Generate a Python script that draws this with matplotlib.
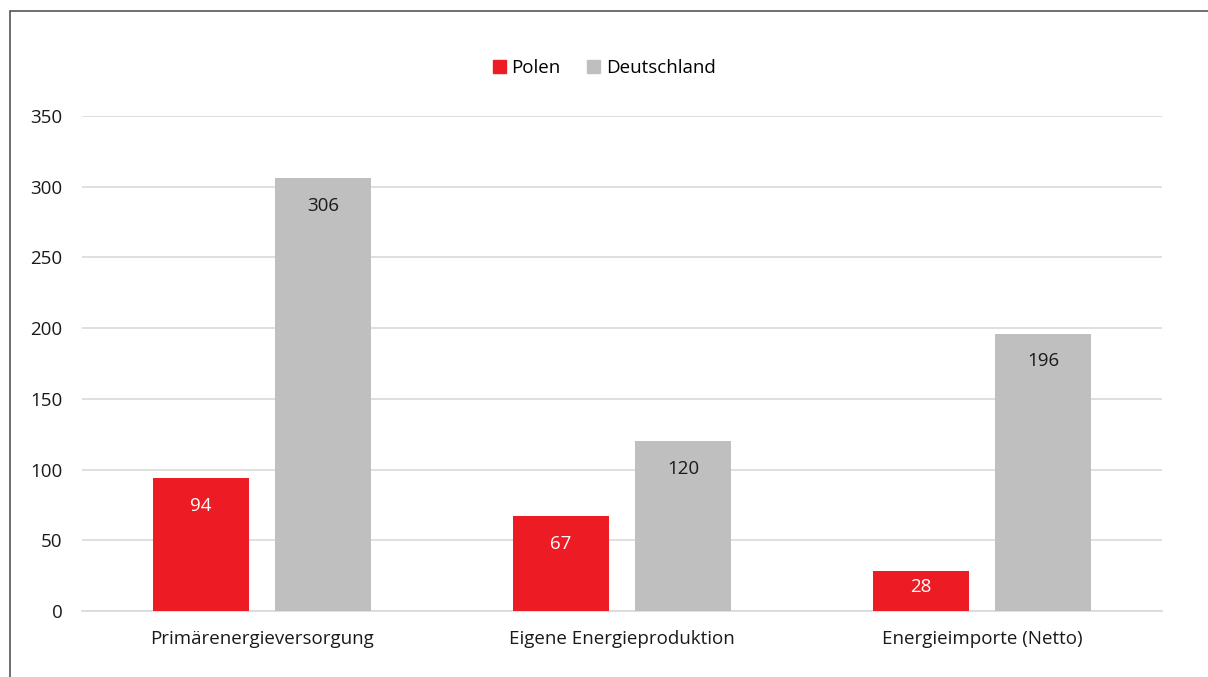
import matplotlib.pyplot as plt
import matplotlib.patches as mpatches
import numpy as np

# ---- Data ----
categories = ["Primärenergieversorgung", "Eigene Energieproduktion", "Energieimporte (Netto)"]
polen = [94, 67, 28]
deutschland = [306, 120, 196]
series_names = ["Polen", "Deutschland"]

RED = "#ED1C24"
GRAY = "#BFBFBF"

plt.rcParams["font.family"] = ["Open Sans", "DejaVu Sans"]
FS = 13.5

fig = plt.figure(figsize=(12.08, 6.77), dpi=100)
ax = fig.add_axes([0.0679, 0.0975, 0.8941, 0.7312])

x = np.arange(len(categories))
w = 0.267
off = 0.17
b1 = ax.bar(x - off, polen, w, color=RED, zorder=3)
b2 = ax.bar(x + off, deutschland, w, color=GRAY, zorder=3)

# value labels just inside the top of each bar
for rect, v in zip(b1, polen):
    ax.text(rect.get_x() + rect.get_width() / 2, max(v - 19.5, v * 0.6), str(v),
            ha="center", va="center", color="white", fontsize=FS)
for rect, v in zip(b2, deutschland):
    ax.text(rect.get_x() + rect.get_width() / 2, max(v - 19.5, v * 0.6), str(v),
            ha="center", va="center", color="#1a1a1a", fontsize=FS)

ax.set_xlim(-0.5, 2.5)
ax.set_ylim(0, 350)
ax.set_yticks(np.arange(0, 351, 50))
ax.set_xticks(x)
ax.set_xticklabels(categories)
ax.tick_params(axis="both", length=0, labelsize=FS, colors="#1a1a1a")
ax.tick_params(axis="y", pad=14)
ax.tick_params(axis="x", pad=14)
ax.grid(axis="y", color="#D9D9D9", linewidth=1.2, zorder=0)
for s in ["top", "right", "left"]:
    ax.spines[s].set_visible(False)
ax.spines["bottom"].set_color("#D9D9D9")
ax.spines["bottom"].set_linewidth(1.2)

handles = [mpatches.Patch(color=RED), mpatches.Patch(color=GRAY)]
fig.legend(handles, series_names, loc="center", bbox_to_anchor=(0.5, 0.900),
           ncol=2, frameon=False, fontsize=FS, handlelength=0.7, handleheight=0.7,
           handletextpad=0.3, columnspacing=1.4)

# outer frame of the figure box
frame = mpatches.Rectangle((10 / 1208, -0.01), 1.05, 1 - 11 / 677 + 0.01,
                           transform=fig.transFigure, fill=False,
                           edgecolor="#555555", linewidth=1.2)
fig.patches.append(frame)

fig.savefig("out.png", dpi=100)
